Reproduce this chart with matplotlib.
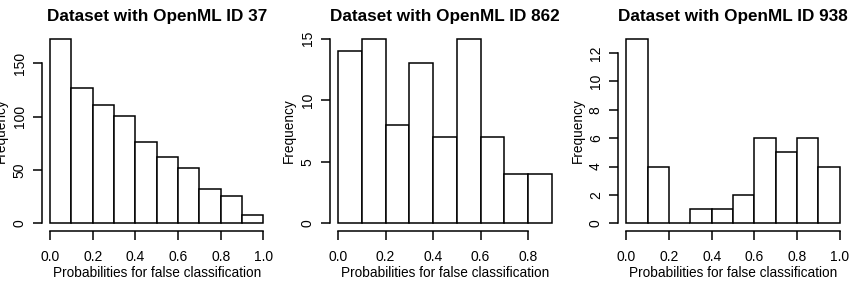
import matplotlib.pyplot as plt
import numpy as np
from matplotlib.ticker import FormatStrFormatter

plt.rcParams['font.family'] = ['Liberation Sans', 'DejaVu Sans']
plt.rcParams['font.size'] = 10

# histogram data
titles = ["Dataset with OpenML ID 37", "Dataset with OpenML ID 862", "Dataset with OpenML ID 938"]

breaks_37 = [0.0, 0.1, 0.2, 0.3, 0.4, 0.5, 0.6, 0.7, 0.8, 0.9, 1.0]
counts_37 = [173, 127, 111, 101, 76, 62, 52, 32, 26, 8]
xticks_37 = [0.0, 0.2, 0.4, 0.6, 0.8, 1.0]
yticks_37 = [0, 50, 100, 150]

breaks_862 = [0.0, 0.1, 0.2, 0.3, 0.4, 0.5, 0.6, 0.7, 0.8, 0.9]
counts_862 = [14, 15, 8, 13, 7, 15, 7, 4, 4]
xticks_862 = [0.0, 0.2, 0.4, 0.6, 0.8]
yticks_862 = [0, 5, 10, 15]

breaks_938 = [0.0, 0.1, 0.2, 0.3, 0.4, 0.5, 0.6, 0.7, 0.8, 0.9, 1.0]
counts_938 = [13, 4, 0, 1, 1, 2, 6, 5, 6, 4]
xticks_938 = [0.0, 0.2, 0.4, 0.6, 0.8, 1.0]
yticks_938 = [0, 2, 4, 6, 8, 10, 12]

XLABEL = "Probabilities for false classification"
YLABEL = "Frequency"

W, H = 852, 282
# plot regions in pixels (left, top, right, bottom), R-style 4% padding inside
regions = [(41.5, 31.4, 271.9, 230.7),
           (329.5, 31.4, 560.3, 230.7),
           (617.8, 31.4, 848.2, 230.7)]

LW = 1.1
TICK_PX = 9


def r_hist(ax, title, breaks, counts, xticks, yticks):
    breaks = np.asarray(breaks)
    ax.bar(breaks[:-1], counts, width=np.diff(breaks), align="edge",
           color="white", edgecolor="black", linewidth=LW)
    lo, hi = breaks[0], breaks[-1]
    ax.set_xlim(lo - 0.04 * (hi - lo), hi + 0.04 * (hi - lo))
    ymax = max(counts)
    ax.set_ylim(-0.04 * ymax, 1.04 * ymax)
    for s in ["top", "right"]:
        ax.spines[s].set_visible(False)
    # base-R style axes: line only spans first..last tick
    ax.spines["left"].set_bounds(yticks[0], yticks[-1])
    ax.spines["bottom"].set_bounds(xticks[0], xticks[-1])
    for s in ["left", "bottom"]:
        ax.spines[s].set_linewidth(LW)
    ax.set_xticks(xticks)
    ax.set_yticks(yticks)
    ax.xaxis.set_major_formatter(FormatStrFormatter("%.1f"))
    ax.tick_params(direction="out", length=TICK_PX * 0.72, width=LW, colors="black")
    ax.tick_params(axis="x", pad=7.1)
    ax.tick_params(axis="y", pad=4.3)
    for lab in ax.get_yticklabels():
        lab.set_rotation(90)
        lab.set_va("center")
    ax.set_title(title, fontweight="bold", fontsize=12.3, pad=7.2)
    ax.set_xlabel(XLABEL, fontsize=9.8)
    ax.set_ylabel(YLABEL, fontsize=9.8)


fig = plt.figure(figsize=(W / 100, H / 100), dpi=100)
data = [(breaks_37, counts_37, xticks_37, yticks_37),
        (breaks_862, counts_862, xticks_862, yticks_862),
        (breaks_938, counts_938, xticks_938, yticks_938)]

for (l, t, r, b), title, (br, ct, xt, yt) in zip(regions, titles, data):
    ax = fig.add_axes([l / W, 1 - b / H, (r - l) / W, (b - t) / H])
    r_hist(ax, title, br, ct, xt, yt)
    ax.xaxis.set_label_coords(0.5, -42.0 / (b - t))
    ax.xaxis.label.set_va("center")
    ax.yaxis.set_label_coords(-40.2 / (r - l), 0.5)
    ax.yaxis.label.set_va("center")

fig.savefig("out.png", dpi=100)
